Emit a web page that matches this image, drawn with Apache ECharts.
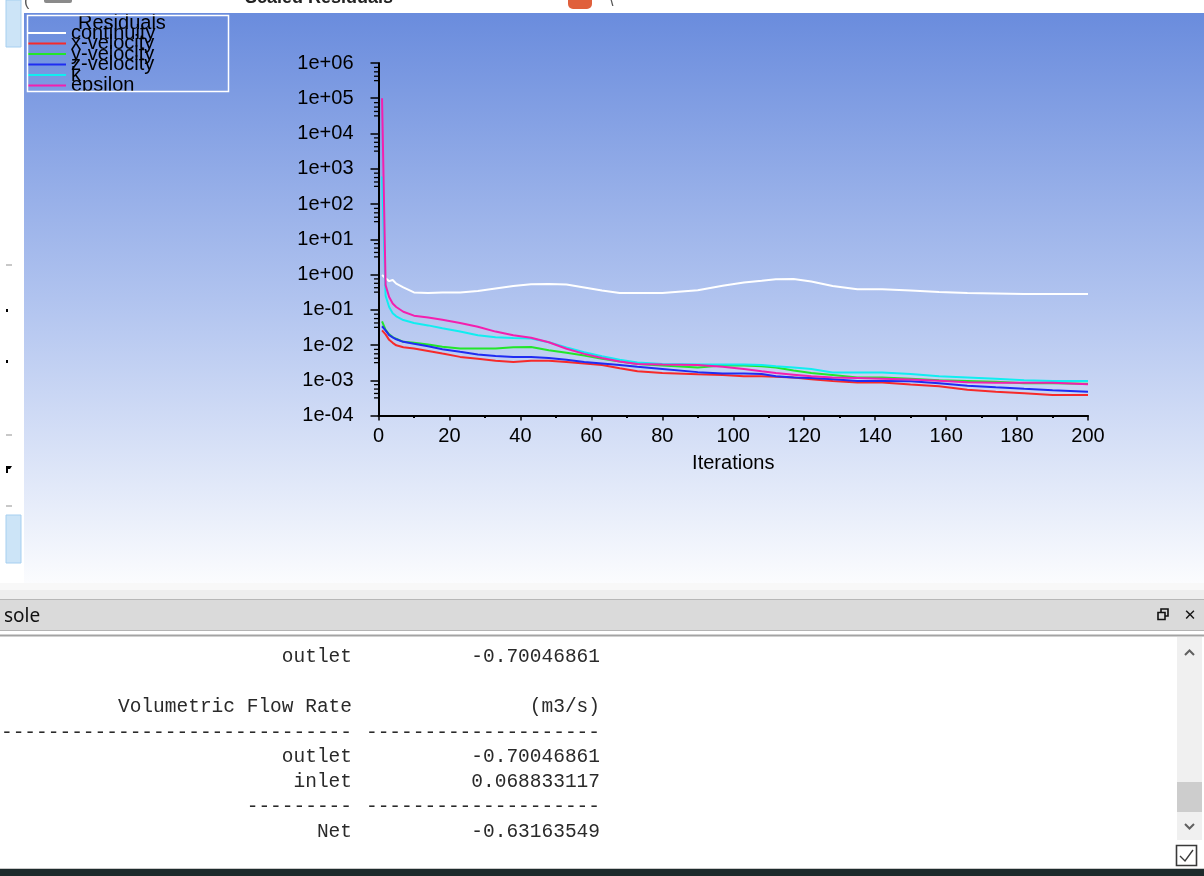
<!DOCTYPE html>
<html><head><meta charset="utf-8">
<script src="https://cdn.jsdelivr.net/npm/echarts@6/dist/echarts.min.js"></script>
<style>html,body{margin:0;padding:0;background:#fff;overflow:hidden}#c{width:1204px;height:876px}</style>
</head><body><div id="c"></div>
<script>
// ---- data ----
const iterations = [1,2,3,4,5,7,10,14,18,23,28,33,38,43,48,53,58,63,68,73,80,90,97,103,108,112,117,122,128,135,142,150,158,166,174,182,190,200];
const continuity = [0.97,0.78,0.65,0.7,0.55,0.43,0.31,0.30,0.31,0.31,0.34,0.40,0.47,0.53,0.54,0.52,0.43,0.35,0.30,0.30,0.30,0.36,0.48,0.59,0.66,0.73,0.75,0.63,0.47,0.38,0.38,0.35,0.32,0.30,0.29,0.28,0.28,0.28];
const xVelocity = [0.026,0.02,0.014,0.0115,0.0098,0.0086,0.008,0.0068,0.0057,0.0046,0.0041,0.0036,0.0033,0.0036,0.0036,0.0033,0.003,0.0027,0.0022,0.0018,0.0016,0.00147,0.0014,0.0013,0.00129,0.00125,0.00119,0.00106,0.00095,0.00086,0.00086,0.00076,0.00068,0.00054,0.00047,0.00043,0.00038,0.00038];
const yVelocity = [0.047,0.027,0.02,0.0168,0.015,0.0123,0.0115,0.0103,0.0089,0.008,0.0079,0.0079,0.0087,0.0088,0.0071,0.006,0.005,0.0041,0.0034,0.0029,0.0026,0.0023,0.0026,0.0026,0.0025,0.0023,0.0019,0.0016,0.0014,0.0012,0.0012,0.0011,0.001,0.00095,0.0009,0.00082,0.00082,0.0008];
const zVelocity = [0.034,0.026,0.019,0.0165,0.0145,0.0123,0.0108,0.0092,0.0076,0.0064,0.0054,0.0049,0.0046,0.0046,0.0043,0.0038,0.0033,0.003,0.0027,0.0024,0.0021,0.0017,0.00156,0.00156,0.0015,0.0013,0.0012,0.00115,0.00106,0.00095,0.00095,0.00093,0.00082,0.0007,0.00063,0.00057,0.00052,0.00047];
const kRes = [600,0.25,0.12,0.08,0.065,0.051,0.042,0.036,0.03,0.024,0.019,0.0165,0.0158,0.0152,0.012,0.0085,0.0062,0.0048,0.0038,0.0032,0.0029,0.0028,0.0028,0.0028,0.0027,0.0025,0.0023,0.0021,0.00165,0.00165,0.00165,0.0015,0.0013,0.0012,0.0011,0.001,0.00095,0.00095];
const epsilon = [1e5,0.5,0.23,0.15,0.12,0.088,0.068,0.06,0.052,0.042,0.033,0.024,0.019,0.016,0.012,0.0078,0.0056,0.0043,0.0034,0.0029,0.0028,0.0027,0.0024,0.0021,0.0018,0.0016,0.00144,0.0013,0.0012,0.00115,0.0011,0.00105,0.00097,0.00088,0.00085,0.00085,0.00085,0.00077];

const seriesNames = ['continuity','x-velocity','y-velocity','z-velocity','k','epsilon'];
const seriesColors = ['#ffffff','#f62a2a','#22e62a','#1f2cf2','#10eef0','#f41fae'];
const yTickLabels = ['1e-04','1e-03','1e-02','1e-01','1e+00','1e+01','1e+02','1e+03','1e+04','1e+05','1e+06'];
const minorTickSteps = [1,2,3,4]; // eighths of a decade below each major tick

const consoleRows = [
  ['outlet','-0.70046861', 657],
  ['Volumetric Flow Rate','(m3/s)', 707],
  ['-------------------------------','--------------------', 733],
  ['outlet','-0.70046861', 757],
  ['inlet','0.068833117', 782],
  ['---------','--------------------', 807],
  ['Net','-0.63163549', 832]
];

const allSeries = [continuity,xVelocity,yVelocity,zVelocity,kRes,epsilon];
const FONT = 'Liberation Sans, Arial, sans-serif';
const MONO = 'Liberation Mono, Courier New, monospace';

const minorTickValues = [];
for (let e = -3; e <= 6; e++) {
  minorTickSteps.forEach(s => minorTickValues.push(Math.pow(10, e - s / 8)));
}

const bgFill = {type:'linear', x:0, y:13, x2:0, y2:583, global:true,
  colorStops:[{offset:0,color:'#6a8cdd'},{offset:0.5,color:'#b0c3ef'},{offset:1,color:'#fbfcfe'}]};

const graphics = [
  {type:'rect', shape:{x:24,y:13,width:1180,height:570}, style:{fill:bgFill}, z:-100, silent:true},
  // left strip widgets
  {type:'rect', shape:{x:6,y:0,width:15,height:47}, style:{fill:'#cce4f7',stroke:'#a6cff0',lineWidth:1}, z:-90},
  {type:'rect', shape:{x:6,y:515,width:15,height:48}, style:{fill:'#cce4f7',stroke:'#a6cff0',lineWidth:1}, z:-90},
  {type:'rect', shape:{x:6,y:264,width:6,height:2}, style:{fill:'#c8c8c8'}, z:-90},
  {type:'rect', shape:{x:6,y:309,width:2,height:3}, style:{fill:'#000'}, z:-90},
  {type:'rect', shape:{x:6,y:360,width:2,height:3}, style:{fill:'#000'}, z:-90},
  {type:'rect', shape:{x:6,y:434,width:6,height:2}, style:{fill:'#c8c8c8'}, z:-90},
  {type:'polygon', shape:{points:[[6,466],[12,466],[10,469],[8,469],[8,473],[6,473]]}, style:{fill:'#000'}, z:-90},
  {type:'rect', shape:{x:6,y:505,width:6,height:2}, style:{fill:'#c8c8c8'}, z:-90},
  // top strip widgets
  {type:'text', style:{text:'(', x:24, y:-6, font:'16px '+FONT, fill:'#555'}, z:-90},
  {type:'rect', shape:{x:44,y:-4,width:28,height:7,r:2}, style:{fill:'#8a8a8a'}, z:-90},
  {type:'text', style:{text:'Scaled Residuals', x:245, y:-11, font:'bold 18px '+FONT, fill:'#222'}, z:-90},
  {type:'rect', shape:{x:568,y:-6,width:24,height:15,r:5}, style:{fill:'#e0603c'}, z:-90},
  {type:'text', style:{text:'\\', x:609, y:-6, font:'16px '+FONT, fill:'#555'}, z:-90},
  // legend clipping + frame
  {type:'rect', shape:{x:60,y:91.5,width:110,height:10}, style:{fill:bgFill}, z:50, silent:true},
  {type:'rect', shape:{x:27.5,y:15.5,width:201,height:76}, style:{fill:null,stroke:'#ffffff',lineWidth:1.5}, z:51, silent:true},
  // console frame
  {type:'rect', shape:{x:0,y:583,width:1204,height:7}, style:{fill:'#f8f8f8'}, z:-90},
  {type:'rect', shape:{x:0,y:590,width:1204,height:9}, style:{fill:'#eeeeee'}, z:-90},
  {type:'rect', shape:{x:0,y:599,width:1204,height:1.5}, style:{fill:'#b7b7b7'}, z:-90},
  {type:'rect', shape:{x:0,y:600.5,width:1204,height:29.5}, style:{fill:'#dadada'}, z:-90},
  {type:'rect', shape:{x:0,y:630,width:1204,height:1}, style:{fill:'#b4b4b4'}, z:-90},
  {type:'rect', shape:{x:0,y:634.5,width:1204,height:2}, style:{fill:'#a3a3a3'}, z:-90},
  {type:'text', style:{text:'sole', x:4, y:617, font:'19px Noto Sans, Open Sans, sans-serif', fill:'#111', verticalAlign:'middle'}, z:-80},
  {type:'rect', shape:{x:1161,y:609,width:7,height:7}, style:{fill:null,stroke:'#111',lineWidth:1.6}, z:-80},
  {type:'rect', shape:{x:1158,y:612.5,width:7,height:7}, style:{fill:'#dadada',stroke:'#111',lineWidth:1.6}, z:-79},
  {type:'text', style:{text:'✕', x:1190, y:616, font:'bold 15px DejaVu Sans, sans-serif', fill:'#111', align:'center', verticalAlign:'middle'}, z:-80},
  {type:'rect', shape:{x:1177,y:637,width:25,height:203}, style:{fill:'#f0f0f0'}, z:-80},
  {type:'rect', shape:{x:1177,y:782,width:25,height:30}, style:{fill:'#cdcdcd'}, z:-79},
  {type:'polyline', shape:{points:[[1185,655],[1189.5,650.5],[1194,655]]}, style:{stroke:'#606060',lineWidth:2}, z:-79},
  {type:'polyline', shape:{points:[[1185,824],[1189.5,828.5],[1194,824]]}, style:{stroke:'#606060',lineWidth:2}, z:-79},
  {type:'rect', shape:{x:1176.5,y:845.5,width:20,height:20}, style:{fill:'#fff',stroke:'#3a3a3a',lineWidth:1.6}, z:-79},
  {type:'polyline', shape:{points:[[1180,856],[1185,861],[1193,850]]}, style:{stroke:'#3a3a3a',lineWidth:1.4}, z:-78},
  {type:'rect', shape:{x:0,y:868,width:1204,height:1}, style:{fill:'#c8c8c8'}, z:-80},
  {type:'rect', shape:{x:0,y:869,width:1204,height:7}, style:{fill:'#1d2a2b'}, z:-80}
];
consoleRows.forEach(r => {
  graphics.push({type:'text', style:{text:r[0], x:352, y:r[2], align:'right', verticalAlign:'middle', font:'19.5px '+MONO, fill:'#2a2a2a'}, z:-70});
  graphics.push({type:'text', style:{text:r[1], x:600, y:r[2], align:'right', verticalAlign:'middle', font:'19.5px '+MONO, fill:'#2a2a2a'}, z:-70});
});

const lineSeries = seriesNames.map((name, i) => ({
  name, type:'line', showSymbol:false, symbol:'none',
  data: iterations.map((it, j) => [it, allSeries[i][j]]),
  lineStyle:{width:2, color:seriesColors[i]}, itemStyle:{color:seriesColors[i]},
  emphasis:{disabled:true}, z: 2 + i * 0.01
}));

const minorSeries = {
  type:'custom', name:'_minor', silent:true, clip:false, z:6,
  data: minorTickValues.map(v => [0, v]),
  renderItem: (params, api) => {
    const p = api.coord([0, api.value(1)]);
    return {type:'line', shape:{x1:p[0]-4.5, y1:p[1], x2:p[0], y2:p[1]}, style:{stroke:'#000', lineWidth:1.3}};
  }
};

const chart = echarts.init(document.getElementById('c'), null, {renderer:'canvas'});
chart.setOption({
  animation:false,
  backgroundColor:'#ffffff',
  title:{text:'Residuals', left:78, top:13, padding:0, textStyle:{fontSize:20, fontWeight:'normal', color:'#000', fontFamily:FONT}},
  legend:{data:seriesNames, orient:'vertical', left:28, top:23, padding:0, itemGap:-9.5, itemWidth:38, itemHeight:2,
    icon:'rect', selectedMode:false, textStyle:{fontSize:20, color:'#000', fontFamily:FONT}},
  grid:{left:378.5, right:116, top:63, bottom:460.5, containLabel:false},
  xAxis:{type:'value', min:0, max:200, interval:20,
    name:'Iterations', nameLocation:'middle', nameGap:38, nameTextStyle:{fontSize:20, color:'#000', fontFamily:FONT},
    axisLine:{onZero:false, lineStyle:{color:'#000', width:2}},
    axisTick:{length:5, lineStyle:{color:'#000', width:1.5}},
    minorTick:{show:true, splitNumber:2, length:2.5, lineStyle:{color:'#000', width:2}},
    axisLabel:{fontSize:20, color:'#000', margin:11, fontFamily:FONT},
    splitLine:{show:false}},
  yAxis:{type:'log', logBase:10, min:1e-4, max:1e6, splitNumber:10,
    axisLine:{show:true, onZero:false, lineStyle:{color:'#000', width:2}},
    axisTick:{show:true, length:8, lineStyle:{color:'#000', width:1.5}},
    axisLabel:{fontSize:20, color:'#000', margin:25, fontFamily:FONT,
      formatter: v => yTickLabels[Math.round(Math.log10(v)) + 4]},
    splitLine:{show:false}},
  graphic: graphics,
  series: lineSeries.concat([minorSeries])
});
</script></body></html>
